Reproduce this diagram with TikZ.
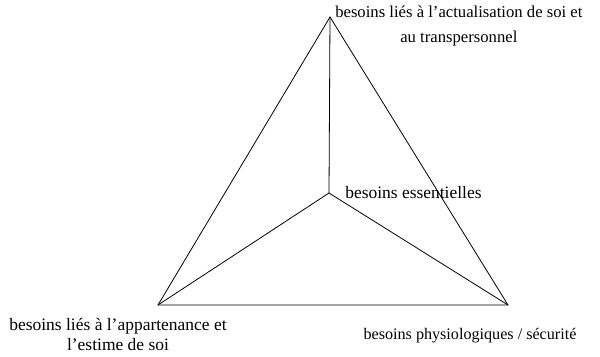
\documentclass[tikz,border=0pt]{standalone}
\usepackage{fontspec}
\setmainfont{Liberation Serif}
\usetikzlibrary{positioning}

\begin{document}
\begin{tikzpicture}[
      x=0.75pt, y=-0.75pt,
      font=\fontsize{12}{15}\selectfont,
      side/.style={line width=0.6pt},
      lbl/.style={align=center, inner sep=0pt}
    ]
    \useasboundingbox (0,0) rectangle (600,357);

    % Corners of the triangle
    \coordinate (top)   at (330,17);
    \coordinate (left)  at (158,305);
    \coordinate (right) at (508,305);
    \coordinate (mid)   at (329,193);

    % Outline
    \draw[side] (top) -- (left) -- (right) -- cycle;

    % Spokes from the centre
    \draw[side] (mid) -- (top);
    \draw[side] (mid) -- (left);
    \draw[side] (mid) -- (right);

    % Labels
    \node (l_top)   [lbl, font=\fontsize{12.5}{15}\selectfont, right=3.75pt of top, yshift=-6.4pt]
                    {besoins liés à l’actualisation de soi et\\[3.75pt] au transpersonnel};
    \node (l_mid)   [lbl, font=\fontsize{13.1}{15}\selectfont, right=12pt of mid]
                    {besoins essentielles};
    \node (l_left)  [lbl, font=\fontsize{13.1}{15}\selectfont, below=10pt of left, xshift=-30pt]
                    {besoins liés à l’appartenance et\\ l’estime de soi};
    \node (l_right) [lbl, font=\fontsize{12.1}{15}\selectfont, below=17pt of right, xshift=-28.5pt]
                    {besoins physiologiques / sécurité};
  \end{tikzpicture}
\end{document}
